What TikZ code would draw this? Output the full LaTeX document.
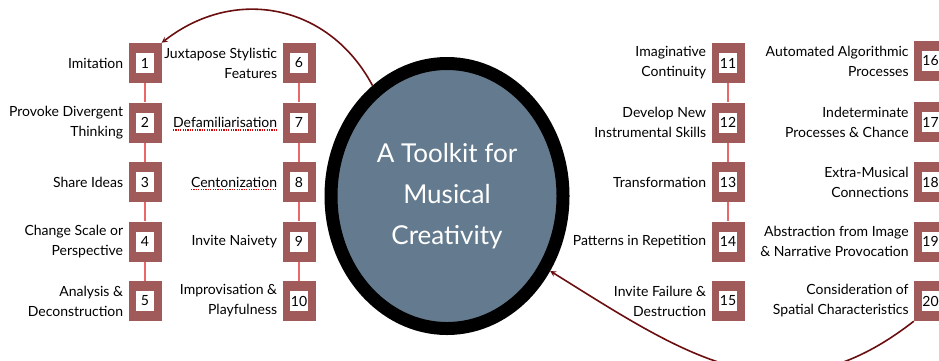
\documentclass[tikz,border=0pt]{standalone}
\usepackage{fontspec}
\setmainfont{Lato}
\usepackage{tikz}
\usetikzlibrary{shapes,arrows,positioning,calc}

\definecolor{boxred}{HTML}{A05A5A}
\definecolor{linkred}{HTML}{E8686A}
\definecolor{arrowred}{HTML}{6B0E10}
\definecolor{slate}{HTML}{647B8F}

\begin{document}
\begin{tikzpicture}[
    x=1pt, y=-1pt,
    numbox/.style={rectangle, fill=boxred, minimum width=33pt, minimum height=40pt, inner sep=0pt,
        font=\fontsize{14}{16}\selectfont,
        path picture={\fill[white] ([shift={(-9pt,-10pt)}]path picture bounding box.center)
            rectangle ([shift={(9pt,10pt)}]path picture bounding box.center);}},
    tool/.style={align=right, inner sep=0pt, font=\fontsize{14}{20}\selectfont},
    link/.style={draw=linkred, line width=1.8pt},
    arrow/.style={->, >=stealth, draw=arrowred, line width=1.6pt},
    spell/.style={draw=red!85!black, dash pattern=on 1.2pt off 1.2pt, line width=1.3pt}
]
    \useasboundingbox (0,0) rectangle (939,360);

    % centre
    \node[ellipse, draw=black, line width=13pt, fill=slate, minimum width=232pt, minimum height=265pt,
          text=white, align=center, font=\fontsize{26}{41}\selectfont] (toolkit) at (447,196)
          {A Toolkit for\\Musical\\Creativity};

    % numbered boxes with their labels
    \foreach \i/\x/\y/\txt in {
        1/145/63/Imitation, 2/145/122.5/{Provoke Divergent\\Thinking}, 3/145/182/Share Ideas,
        4/145/241.5/{Change Scale or\\Perspective}, 5/145/301/{Analysis \&\\Deconstruction},
        6/299/63/{Juxtapose Stylistic\\Features}, 7/299/122.5/Defamiliarisation, 8/299/182/Centonization,
        9/299/241.5/Invite Naivety, 10/299/301/{Improvisation \&\\Playfulness},
        11/728/63/{Imaginative\\Continuity}, 12/728/122.5/{Develop New\\Instrumental Skills},
        13/728/182/Transformation, 14/728/241.5/Patterns in Repetition,
        15/728/301/{Invite Failure \&\\Destruction},
        16/930.5/61/{Automated Algorithmic\\Processes}, 17/930.5/122/{Indeterminate\\Processes \& Chance},
        18/930.5/182/{Extra-Musical\\Connections}, 19/930.5/241.5/{Abstraction from Image\\\& Narrative Provocation},
        20/930.5/301/{Consideration of\\Spatial Characteristics}} {
        \node[numbox] (n\i) at (\x,\y) {\i};
        \node[tool, left=5pt of n\i] (t\i) {\txt};
    }

    % links inside the columns
    \foreach \a/\b in {1/2, 2/3, 3/4, 4/5, 6/7, 7/8, 8/9, 9/10, 11/12, 12/13, 13/14}
        \draw[link] (n\a) -- (n\b);

    % spelling marks
    \draw[spell] ([yshift=-2pt]t7.south west) -- ([yshift=-2pt]t7.south east);
    \draw[spell] ([yshift=-2pt]t8.south west) -- ([yshift=-2pt]t8.south east);

    % arrows
    \draw[arrow] (toolkit.124) to[out=118, in=38, looseness=1.1] (n1.north east);
    \draw[arrow] (n20.south west) to[out=218, in=-32, looseness=1.15] (toolkit.-36);
\end{tikzpicture}
\end{document}
